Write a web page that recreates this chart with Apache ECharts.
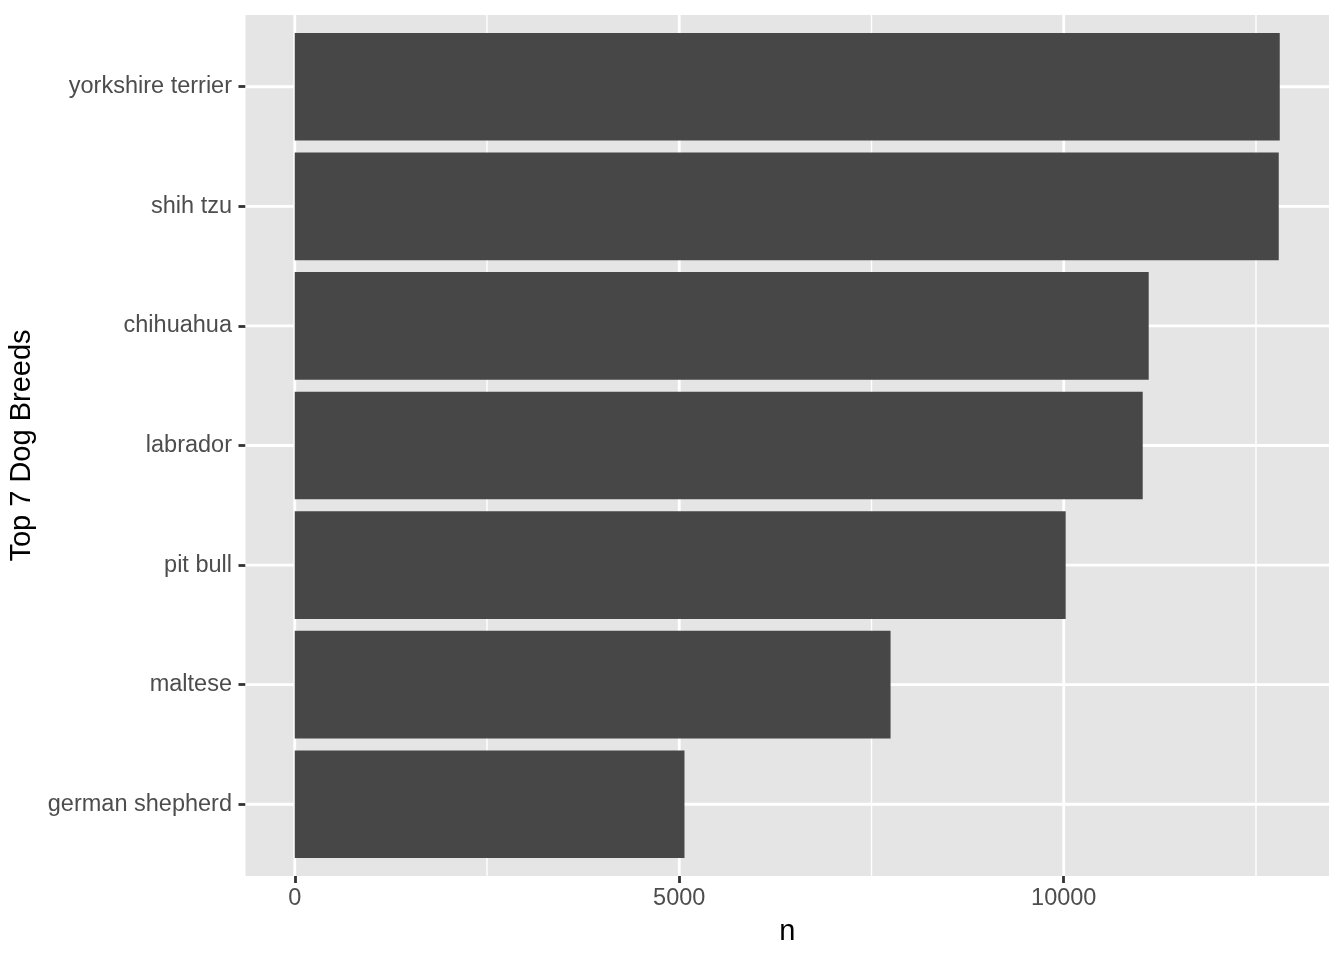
<!DOCTYPE html>
<html>
<head>
<meta charset="utf-8">
<script src="https://cdn.jsdelivr.net/npm/echarts@6/dist/echarts.min.js"></script>
<style>
  html, body { margin: 0; padding: 0; background: #ffffff; }
  #chart { width: 1344px; height: 960px; }
</style>
</head>
<body>
<div id="chart"></div>
<script>
// Categories listed from bottom to top of the chart
const breeds = ['german shepherd', 'maltese', 'pit bull', 'labrador', 'chihuahua', 'shih tzu', 'yorkshire terrier'];
const counts = [5068, 7748, 10025, 11027, 11105, 12796, 12809];
const xTicks = [0, 5000, 10000];
const xMinorTicks = [2500, 7500, 12500];
const yTicks = breeds.map((_, i) => i);

const dataMax = Math.max(...counts);
const xMin = -0.05 * dataMax;
const xMax = 1.05 * dataMax;

const FONT = '"Liberation Sans", Arial, Helvetica, sans-serif';

function vLine(width) {
  return function (params, api) {
    const cs = params.coordSys;
    const p = api.coord([api.value(0), 0]);
    return {
      type: 'line',
      shape: { x1: p[0], y1: cs.y, x2: p[0], y2: cs.y + cs.height },
      style: { stroke: '#ffffff', lineWidth: width }
    };
  };
}
function hLine(width) {
  return function (params, api) {
    const cs = params.coordSys;
    const p = api.coord([0, api.value(0)]);
    return {
      type: 'line',
      shape: { x1: cs.x, y1: p[1], x2: cs.x + cs.width, y2: p[1] },
      style: { stroke: '#ffffff', lineWidth: width }
    };
  };
}

const chart = echarts.init(document.getElementById('chart'), null, { renderer: 'canvas' });
chart.setOption({
  animation: false,
  backgroundColor: '#ffffff',
  textStyle: { fontFamily: FONT },
  grid: {
    left: 245.5, right: 15, top: 15, bottom: 84,
    show: true, backgroundColor: '#E5E5E5', borderWidth: 0,
    containLabel: false, outerBoundsMode: 'none'
  },
  xAxis: {
    type: 'value', min: xMin, max: xMax,
    axisLine: { show: false, onZero: false },
    splitLine: { show: false },
    axisTick: { show: true, customValues: xTicks, length: 7, lineStyle: { color: '#333333', width: 2.8 } },
    axisLabel: { customValues: xTicks, color: '#4D4D4D', fontSize: 23.5, fontFamily: FONT, margin: 11,
                 formatter: v => String(v) },
    name: 'n', nameLocation: 'middle', nameGap: 41,
    nameTextStyle: { color: '#000000', fontSize: 29, fontFamily: FONT }
  },
  yAxis: {
    type: 'value', min: -0.6, max: breeds.length - 0.4,
    axisLine: { show: false, onZero: false },
    splitLine: { show: false },
    axisTick: { show: true, customValues: yTicks, length: 7, lineStyle: { color: '#333333', width: 2.8 } },
    axisLabel: { customValues: yTicks, color: '#4D4D4D', fontSize: 23.5, fontFamily: FONT, margin: 13.5,
                 padding: [7, 0, 0, 0],
                 formatter: v => breeds[Math.round(v)] },
    name: 'Top 7 Dog Breeds', nameLocation: 'middle', nameGap: 203, nameRotate: 90,
    nameTextStyle: { color: '#000000', fontSize: 29, fontFamily: FONT }
  },
  series: [
    { type: 'custom', z: 1, silent: true, data: xMinorTicks, renderItem: vLine(1.4) },
    { type: 'custom', z: 1, silent: true, data: xTicks, renderItem: vLine(2.8) },
    { type: 'custom', z: 1, silent: true, data: yTicks, renderItem: hLine(2.8) },
    {
      type: 'custom', z: 3,
      data: counts.map((v, i) => [v, i]),
      renderItem: function (params, api) {
        const v = api.value(0), idx = api.value(1);
        const p0 = api.coord([0, idx]);
        const p1 = api.coord([v, idx]);
        const h = api.size([0, 0.9])[1];
        return {
          type: 'rect',
          shape: { x: p0[0], y: p0[1] - h / 2, width: p1[0] - p0[0], height: h },
          style: { fill: '#474747' }
        };
      }
    }
  ]
});
</script>
</body>
</html>
